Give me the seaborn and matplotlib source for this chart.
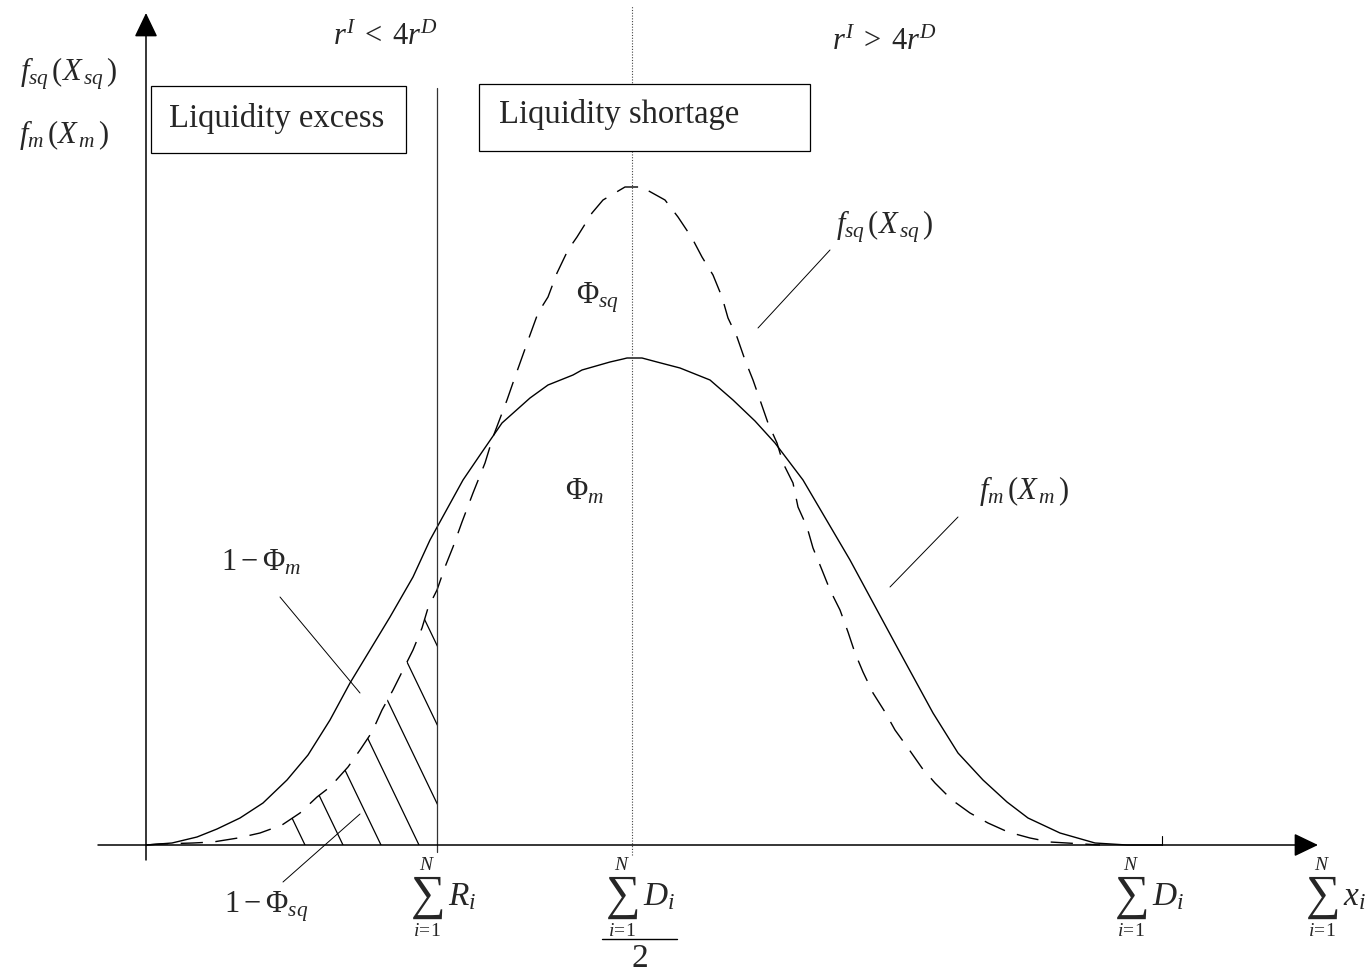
import numpy as np
import pandas as pd
import seaborn as sns
import matplotlib.pyplot as plt
from matplotlib.patches import Rectangle, Polygon

# density curves: x from the vertical axis, y above the horizontal axis
m_x = [0, 26, 51, 61, 71, 94, 117, 141, 162, 184, 204, 224, 244, 267, 284, 317, 334, 356,
       384, 402, 427, 436, 464, 477, 481, 496, 511, 534, 564, 587, 609, 629, 657, 704, 751,
       787, 812, 837, 861, 882, 914, 949, 981, 1016]
m_y = [0, 2, 8, 12, 16, 27, 42, 65, 90, 125, 162, 195, 228, 268, 305, 365, 390, 422,
       447, 460, 470, 475, 483, 486, 487, 487, 483, 477, 465, 445, 424, 402, 365, 285, 198,
       132, 92, 65, 43, 27, 12, 2, 0, 0]

sq_x = [0, 14, 47, 67, 92, 114, 136, 154, 171, 184, 202, 214, 226, 236, 247, 257, 267, 276,
        282, 291, 299, 307, 316, 327, 339, 347, 361, 369, 384, 392, 402, 411, 422, 431, 446,
        457, 479, 499, 501, 519, 532, 546, 556, 567, 576, 582, 591, 599, 607, 614, 622, 631,
        637, 647, 652, 661, 667, 676, 684, 694, 702, 709, 717, 727, 739, 749, 762, 776, 789,
        806, 824, 842, 862, 884, 904, 921, 954]
sq_y = [0, 1, 2, 3, 7, 12, 20, 32, 48, 58, 78, 95, 113, 135, 155, 175, 195, 217,
        237, 255, 278, 298, 323, 352, 382, 408, 445, 468, 510, 532, 548, 572, 595, 608, 632,
        645, 658, 658, 655, 645, 628, 607, 588, 570, 548, 527, 508, 485, 465, 445, 422, 402,
        382, 362, 338, 318, 297, 275, 255, 235, 213, 192, 173, 152, 133, 115, 97, 77, 62,
        45, 32, 22, 13, 7, 3, 2, 0]

# marked points on the horizontal axis
reserves_x = 291        # sum of R_i
half_deposits_x = 486   # sum of D_i / 2
deposits_x = 1016       # sum of D_i

sns.set_style("white")
plt.rcParams['font.family'] = ['Liberation Serif', 'DejaVu Serif']
plt.rcParams['mathtext.fontset'] = 'custom'
plt.rcParams['mathtext.rm'] = 'Liberation Serif'
plt.rcParams['mathtext.it'] = 'Liberation Serif:italic'
plt.rcParams['mathtext.bf'] = 'Liberation Serif:bold'

fig = plt.figure(figsize=(13.7, 9.76), dpi=100)
ax = fig.add_axes([0, 0, 1, 1])

df_m = pd.DataFrame({'x': m_x, 'density': m_y})
df_sq = pd.DataFrame({'x': sq_x, 'density': sq_y})
sns.lineplot(data=df_m, x='x', y='density', estimator=None, color='black', lw=1.0, ax=ax)
sns.lineplot(data=df_sq, x='x', y='density', estimator=None, color='black', lw=1.0, ax=ax)
ax.lines[-1].set_dashes([16, 9])

ax.set_xlim(-146, 1224)
ax.set_ylim(-131, 845)
ax.axis('off')

# hatched tail of the dashed curve left of sum R_i
edge_y = np.interp(reserves_x, sq_x, sq_y)
tail = [(x, y) for x, y in zip(sq_x, sq_y) if x < reserves_x]
clip = Polygon(tail + [(reserves_x, edge_y), (reserves_x, 0)], closed=True, fc='none', ec='none')
ax.add_patch(clip)
for x0 in np.arange(159, 420, 38):
    hl, = ax.plot([x0, x0 - 250], [0, 520], color='black', lw=0.9)
    hl.set_clip_path(clip)

# vertical markers
ax.plot([reserves_x, reserves_x], [-7, 757], color='#333333', lw=0.9)
dl, = ax.plot([half_deposits_x, half_deposits_x], [-10, 840], color='#444444', lw=0.8)
dl.set_dashes([1, 1.5])
ax.plot([deposits_x, deposits_x], [0, 9], color='black', lw=0.8)

# axes with arrow heads
arrow = dict(arrowstyle='-|>,head_length=0.75,head_width=0.36', mutation_scale=20,
             lw=1.1, color='black', shrinkA=0, shrinkB=0)
ax.annotate('', xy=(0, 832), xytext=(0, -15), arrowprops=arrow)
ax.annotate('', xy=(1172, 0), xytext=(-48, 0), arrowprops=arrow)

# region boxes
ax.add_patch(Rectangle((5, 692), 255, 67, fc='white', ec='black', lw=0.9, zorder=3))
ax.add_patch(Rectangle((333, 694), 331, 67, fc='white', ec='black', lw=0.9, zorder=3))
ax.text(131, 727, 'Liquidity excess', fontsize=23.5, ha='center', va='center', zorder=4)
ax.text(473, 730, 'Liquidity shortage', fontsize=23.5, ha='center', va='center', zorder=4)

fs = 22
ax.text(-77, 771, r'$f_{sq}\,(X_{\,sq}\,)$', fontsize=fs, ha='center', va='center')
ax.text(-82, 710, r'$f_m\,(X_{\,m}\,)$', fontsize=fs, ha='center', va='center')
ax.text(239, 808, r'$r^I\;<\;4r^D$', fontsize=fs, ha='center', va='center')
ax.text(738, 803, r'$r^I\;>\;4r^D$', fontsize=fs, ha='center', va='center')
ax.text(452, 547, r'$\Phi_{sq}$', fontsize=fs, ha='center', va='center')
ax.text(439, 353, r'$\Phi_m$', fontsize=fs, ha='center', va='center')
ax.text(115, 282, r'$1-\Phi_m$', fontsize=fs, ha='center', va='center')
ax.text(120, -62, r'$1-\Phi_{sq}$', fontsize=fs, ha='center', va='center')
ax.text(739, 618, r'$f_{sq}\,(X_{\,sq}\,)$', fontsize=fs, ha='center', va='center')
ax.text(878, 354, r'$f_m\,(X_{\,m}\,)$', fontsize=fs, ha='center', va='center')


def draw_sum(xc, term):
    ax.text(xc, -53, r'$\sum$', fontsize=35, ha='center', va='center')
    ax.text(xc, -21, r'$N$', fontsize=14, ha='center', va='center')
    ax.text(xc, -87, r'$i\!=\!1$', fontsize=14, ha='center', va='center')
    ax.text(xc + 21, -60, term, fontsize=24, ha='left', va='baseline')


draw_sum(281, r'$R_i$')
draw_sum(476, r'$D_i$')
draw_sum(985, r'$D_i$')
draw_sum(1176, r'$x_i$')
# half of the deposits: fraction bar and denominator
ax.plot([456, 531], [-94, -94], color='black', lw=1.0)
ax.text(494, -114, '2', fontsize=24, ha='center', va='center')

# leader lines from labels to areas and curves
leaders = [((134, 248), (214, 152)), ((137, -37), (214, 31)),
           ((612, 517), (684, 595)), ((744, 258), (812, 328))]
for (x1, y1), (x2, y2) in leaders:
    ax.plot([x1, x2], [y1, y2], color='black', lw=0.7)

fig.savefig('out.png', dpi=100)
